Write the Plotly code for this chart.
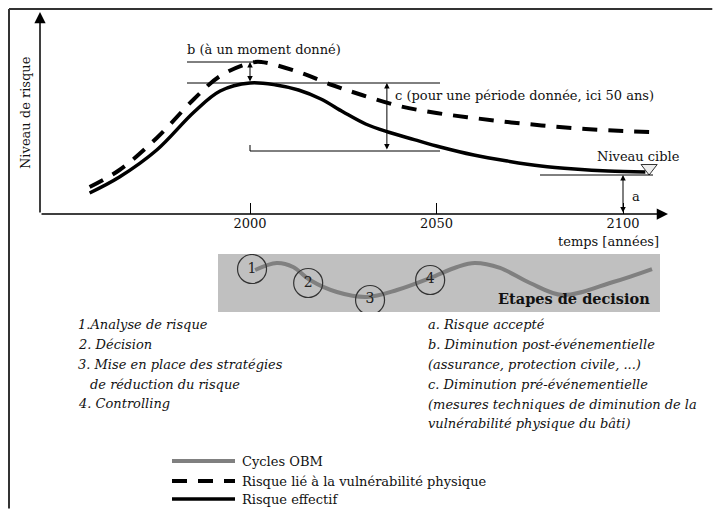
import plotly.graph_objects as go

# ---------------- data ----------------
# Risque effectif (solid)
annees_effectif = [1957, 1965, 1975, 1985, 1992, 2000, 2007, 2013, 2019, 2025, 2031, 2037, 2044, 2051, 2060, 2069, 2078, 2087, 2096, 2106]
risque_effectif = [1.05, 1.85, 3.2, 5.1, 6.15, 6.55, 6.45, 6.2, 5.75, 5.1, 4.5, 4.1, 3.72, 3.35, 2.95, 2.65, 2.4, 2.25, 2.15, 2.1]

# Risque lié à la vulnérabilité physique (dashed)
annees_physique = [1957, 1965, 1975, 1985, 1992, 2000, 2003, 2013, 2022, 2030, 2040, 2050, 2060, 2070, 2080, 2090, 2100, 2108]
risque_physique = [1.35, 2.2, 3.8, 5.75, 6.9, 7.55, 7.6, 7.1, 6.45, 5.95, 5.4, 5.05, 4.8, 4.58, 4.4, 4.25, 4.15, 4.1]

# Cycles OBM (decision steps panel, arbitrary units)
cycle_x = [8.4, 13.3, 17.0, 20.8, 26.9, 33.7, 40.5, 48.0, 54.1, 58.1, 63.8, 70.6, 78.0, 89.4, 98.2]
cycle_y = [7.24, 8.45, 7.76, 5.52, 3.45, 2.59, 3.79, 5.86, 7.76, 8.45, 7.59, 5.0, 2.93, 5.17, 7.41]

etapes_x = [7.7, 20.4, 34.4, 48.0]
etapes_y = [7.41, 5.0, 2.07, 5.52]
etapes_labels = ["1", "2", "3", "4"]

annees_ticks = [2000, 2050, 2100]
ticks_labels = ["2000", "2050", "2100"]

niveau_c = 3.15          # bas de la flèche c
niveau_cible = 1.95      # niveau cible (a)
annee_b = 2000
annee_c = 2036.7
annee_a = 2100

liste_gauche = ["1.Analyse de risque", "2. Décision", "3. Mise en place des stratégies",
                "de réduction du risque", "4. Controlling"]
liste_droite = ["a. Risque accepté", "b. Diminution post-événementielle",
                "(assurance, protection civile, ...)", "c. Diminution pré-événementielle",
                "(mesures techniques de diminution de la", "vulnérabilité physique du bâti)"]

legende_noms = ["Cycles OBM", "Risque lié à la vulnérabilité physique", "Risque effectif"]

# ---------------- figure ----------------
W, H = 713, 509
SERIF = "DejaVu Serif, Liberation Serif, serif"
PX_PER_YEAR = 3.73
X_RANGE = [2000 - 250 / PX_PER_YEAR, 2000 + (W - 250) / PX_PER_YEAR]
Y_RANGE = [(214 - H) / 20, 214 / 20]

STYLE_CYCLE = dict(color="#808080", width=4)
STYLE_PHYS = dict(color="#000", width=4, dash="15px,11px")
STYLE_EFF = dict(color="#000", width=3.5)

def px_year(px):
    return 2000 + (px - 250) / PX_PER_YEAR

def py_level(py):
    return (214 - py) / 20

fig = go.Figure()

fig.add_trace(go.Scatter(
    x=cycle_x, y=cycle_y, xaxis="x2", yaxis="y2", mode="lines",
    line=dict(shape="spline", **STYLE_CYCLE), name=legende_noms[0],
    hoverinfo="skip", showlegend=False))
fig.add_trace(go.Scatter(
    x=annees_physique, y=risque_physique, mode="lines",
    line=dict(shape="spline", **STYLE_PHYS),
    name=legende_noms[1], hoverinfo="skip", showlegend=False))
fig.add_trace(go.Scatter(
    x=annees_effectif, y=risque_effectif, mode="lines",
    line=dict(shape="spline", **STYLE_EFF),
    name=legende_noms[2], hoverinfo="skip", showlegend=False))

# decision steps circles
fig.add_trace(go.Scatter(
    x=etapes_x, y=etapes_y, xaxis="x2", yaxis="y2", mode="markers+text",
    text=etapes_labels, textposition="middle center",
    textfont=dict(family=SERIF, size=14, color="#222"),
    marker=dict(symbol="circle-open", size=29, color="#333", line=dict(width=1.2)),
    showlegend=False, hoverinfo="skip"))

# target level triangle
fig.add_trace(go.Scatter(
    x=[annees_effectif[-1] + 1], y=[niveau_cible + 0.35], mode="markers",
    marker=dict(symbol="triangle-down", size=14, color="#eeeeee",
                line=dict(color="#333", width=1)),
    showlegend=False, hoverinfo="skip"))

peak_phys = max(risque_physique)
peak_eff = max(risque_effectif)

shapes = [
    # outer frame (left and top edges; the others fall outside the picture)
    dict(type="line", xref="paper", yref="paper", x0=9 / W, x1=9 / W, y0=0.001, y1=1 - 9 / H,
         line=dict(color="#333", width=2)),
    dict(type="line", xref="paper", yref="paper", x0=9 / W, x1=0.999, y0=1 - 9 / H, y1=1 - 9 / H,
         line=dict(color="#333", width=2)),
    # grey panel
    dict(type="rect", xref="x2 domain", yref="y2 domain", x0=0, x1=1, y0=0, y1=1,
         fillcolor="#c0c0c0", line=dict(width=0), layer="below"),
    dict(type="line", xref="x", yref="y", x0=px_year(187), x1=px_year(263), y0=peak_phys, y1=peak_phys,
         line=dict(color="#000", width=1)),
    dict(type="line", xref="x", yref="y", x0=px_year(187), x1=px_year(440), y0=peak_eff, y1=peak_eff,
         line=dict(color="#000", width=1)),
    dict(type="line", xref="x", yref="y", x0=annee_b, x1=px_year(440), y0=niveau_c, y1=niveau_c,
         line=dict(color="#000", width=1)),
    dict(type="line", xref="x", yref="y", x0=annee_b, x1=annee_b, y0=niveau_c, y1=niveau_c + 0.3,
         line=dict(color="#000", width=1)),
    dict(type="line", xref="x", yref="y", x0=px_year(540), x1=px_year(653), y0=niveau_cible, y1=niveau_cible,
         line=dict(color="#000", width=1)),
]

def arrow(x, y, ax, ay, both=False, width=1, size=1.1, head=2):
    d = dict(x=x, y=y, ax=ax, ay=ay, xref="x", yref="y", axref="x", ayref="y",
             text="", showarrow=True, arrowhead=head, arrowsize=size, arrowwidth=width,
             arrowcolor="#000", standoff=0, startstandoff=0)
    if both:
        d["arrowside"] = "end+start"
        d["startarrowhead"] = head
        d["startarrowsize"] = size
    return d

annotations = [
    arrow(px_year(40), py_level(12), px_year(40), 0, width=1.5, size=1.5),
    arrow(px_year(668), 0, px_year(40), 0, width=1.5, size=1.5),
    arrow(annee_b, peak_phys, annee_b, peak_eff, both=True),
    arrow(annee_c, peak_eff, annee_c, niveau_c, both=True),
    arrow(annee_a, niveau_cible, annee_a, 0, both=True),
]

def txt(x, y, s, xref="x", yref="y", xanchor="center", size=13, **kw):
    d = dict(x=x, y=y, xref=xref, yref=yref, text=s, showarrow=False, xanchor=xanchor,
             yanchor="middle", font=dict(family=SERIF, size=size, color="#111"))
    d.update(kw)
    return d

annotations += [
    txt(px_year(264), py_level(49), "b (à un moment donné)"),
    txt(px_year(393), py_level(95), "c (pour une période donnée, ici 50 ans)", xanchor="left"),
    txt(px_year(638), py_level(156), "Niveau cible"),
    txt(px_year(636), py_level(196), "a"),
    txt(661 / W, 1 - 242 / H, "temps [années]", xref="paper", yref="paper", xanchor="right"),
    txt(26 / W, 1 - 113 / H, "Niveau de risque", xref="paper", yref="paper", textangle=-90),
    txt(652 / W, 1 - 298 / H, "<b>Etapes de decision</b>", xref="paper", yref="paper",
        xanchor="right", size=14.5),
]

left_y = [324, 344, 364, 384, 403]
left_x = [76, 76, 76, 88, 76]
for s, xx, yy in zip(liste_gauche, left_x, left_y):
    annotations.append(txt(xx / W, 1 - yy / H, "<i>" + s + "</i>", xref="paper", yref="paper",
                           xanchor="left", size=13))
right_y = [324, 344, 364, 384, 404, 423]
for s, yy in zip(liste_droite, right_y):
    annotations.append(txt(426 / W, 1 - yy / H, "<i>" + s + "</i>", xref="paper", yref="paper",
                           xanchor="left", size=13))

# legend (kept inside the picture)
legend_y = [461, 481, 499]
for nom, style, yy in zip(legende_noms, [STYLE_CYCLE, STYLE_PHYS, STYLE_EFF], legend_y):
    shapes.append(dict(type="line", xref="paper", yref="paper", x0=172 / W, x1=235 / W,
                       y0=1 - yy / H, y1=1 - yy / H, line=dict(style)))
    annotations.append(txt(240 / W, 1 - yy / H, nom, xref="paper", yref="paper",
                           xanchor="left", size=13))

fig.update_layout(
    width=W, height=H, margin=dict(l=0, r=0, t=0, b=0),
    paper_bgcolor="white", plot_bgcolor="rgba(0,0,0,0)",
    xaxis=dict(range=X_RANGE, domain=[0, 1], anchor="free", position=1 - 214 / H,
               showgrid=False, zeroline=False, showline=False,
               tickmode="array", tickvals=annees_ticks, ticktext=ticks_labels,
               ticks="inside", ticklen=11, tickwidth=1, tickcolor="#000",
               tickfont=dict(family=SERIF, size=13, color="#111"), fixedrange=True),
    yaxis=dict(range=Y_RANGE, domain=[0, 1], visible=False, fixedrange=True),
    xaxis2=dict(range=[0, 100], domain=[218 / W, 660 / W], anchor="y2", visible=False),
    yaxis2=dict(range=[0, 10], domain=[1 - 312 / H, 1 - 254 / H], anchor="x2", visible=False),
    shapes=shapes, annotations=annotations,
    showlegend=False,
)

fig.write_html(
    "out.html", config={"displayModeBar": False},
    post_script=(
        "document.body.style.margin='0px';document.body.style.padding='0px';"
        "document.documentElement.style.overflow='hidden';"
        "var gd=document.getElementById('{plot_id}');gd.style.overflow='hidden';"
    ))
